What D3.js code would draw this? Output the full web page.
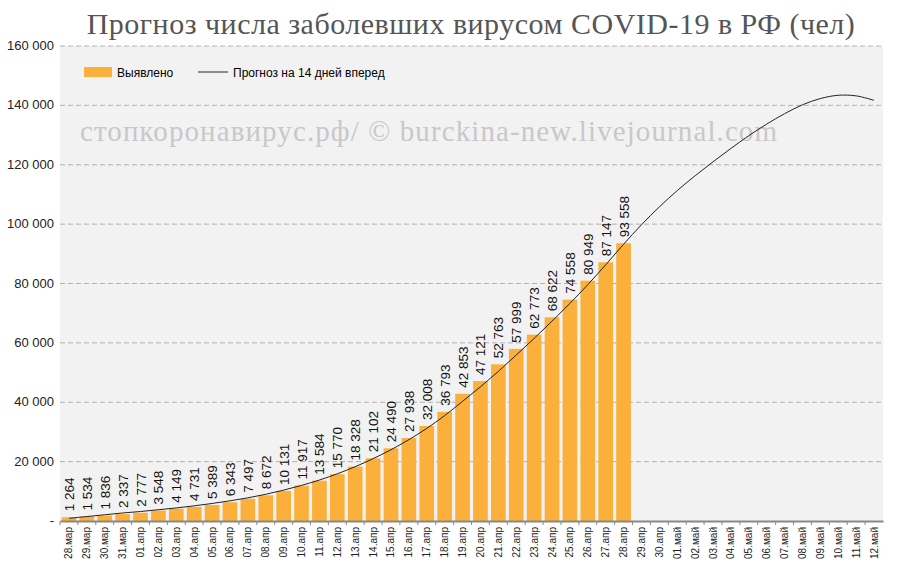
<!DOCTYPE html>
<html><head><meta charset="utf-8">
<script src="https://cdn.jsdelivr.net/npm/d3@7"></script>
<style>body{margin:0;background:#fff}svg{display:block}</style>
</head><body><div id="chart"></div>
<script>
// Категории (даты)
const dates = ["28.мар","29.мар","30.мар","31.мар",
  "01.апр","02.апр","03.апр","04.апр","05.апр","06.апр","07.апр","08.апр","09.апр","10.апр",
  "11.апр","12.апр","13.апр","14.апр","15.апр","16.апр","17.апр","18.апр","19.апр","20.апр",
  "21.апр","22.апр","23.апр","24.апр","25.апр","26.апр","27.апр","28.апр","29.апр","30.апр",
  "01.май","02.май","03.май","04.май","05.май","06.май","07.май","08.май","09.май","10.май","11.май","12.май"];
// Выявлено
const detected = [1264,1534,1836,2337,2777,3548,4149,4731,5389,6343,7497,8672,10131,11917,13584,15770,
  18328,21102,24490,27938,32008,36793,42853,47121,52763,57999,62773,68622,74558,80949,87147,93558];
// Прогноз на 14 дней вперед
const forecast = [900,1500,2100,2700,3200,3800,4400,5100,5900,6800,7800,9000,10400,12000,13800,15900,
  18300,21000,24000,27400,31200,35500,40300,45200,50400,55900,61500,67300,73300,79600,86300,93200,
  99800,105800,111300,116300,121000,125500,129800,133700,137200,140200,142300,143400,143200,141700];
const yTicks = [0,20000,40000,60000,80000,100000,120000,140000,160000];

const W = 900, H = 571;
const m = {top: 46, right: 17, bottom: 50, left: 60};
const svg = d3.select('#chart').append('svg').attr('width', W).attr('height', H);
const fmt = v => v === 0 ? '-' : d3.format(',')(v).replace(/,/g, '\u00a0');

const x = d3.scaleBand().domain(dates).range([m.left, W - m.right]).paddingInner(0.18).paddingOuter(0.09);
const y = d3.scaleLinear().domain([0, 160000]).range([H - m.bottom, m.top]);

// фон
svg.append('rect').attr('x', m.left).attr('y', m.top)
  .attr('width', W - m.right - m.left).attr('height', H - m.bottom - m.top).attr('fill', '#f2f2f2');

// сетка
svg.append('g').selectAll('line').data(yTicks.filter(d => d > 0)).enter().append('line')
  .attr('x1', m.left).attr('x2', W - m.right)
  .attr('y1', d => y(d)).attr('y2', d => y(d))
  .attr('stroke', '#b0b0b0').attr('stroke-dasharray', '5,3');

// ось Y
svg.append('g').selectAll('text').data(yTicks).enter().append('text')
  .attr('x', 54).attr('y', d => y(d) + 4).attr('text-anchor', 'end')
  .style('font', '13px "Liberation Sans", Arial').attr('fill', '#222').text(fmt);

// водяной знак
svg.append('text').attr('x', 80).attr('y', 141).attr('letter-spacing', '1.1')
  .style('font', '29px "Liberation Serif", serif').attr('fill', '#c8c8c8')
  .text('стопкоронавирус.рф/ © burckina-new.livejournal.com');

// столбцы
svg.append('g').selectAll('rect').data(detected).enter().append('rect')
  .attr('x', (d, i) => x(dates[i])).attr('width', x.bandwidth())
  .attr('y', d => y(d)).attr('height', d => y(0) - y(d)).attr('fill', '#fbb03b');

// линия прогноза
svg.append('path').datum(forecast)
  .attr('d', d3.line().x((d, i) => x(dates[i]) + x.bandwidth() / 2).y(d => y(d)).curve(d3.curveCatmullRom))
  .attr('fill', 'none').attr('stroke', '#222').attr('stroke-width', 1);

// подписи значений
svg.append('g').selectAll('text').data(detected).enter().append('text')
  .attr('transform', (d, i) => `translate(${x(dates[i]) + x.bandwidth() / 2 + 5},${y(d) - 6}) rotate(-90)`)
  .style('font', '13.5px "Liberation Sans", Arial').attr('fill', '#111')
  .text(d => fmt(d));

// ось X
const xAxis = svg.append('g').attr('transform', `translate(0,${y(0)})`)
  .call(d3.axisBottom(x).tickSize(4).tickSizeOuter(0));
xAxis.select('.domain').attr('stroke', '#888').attr('stroke-width', 2);
xAxis.selectAll('.tick line').attr('stroke', '#888').attr('transform', `translate(${-x.step() / 2},0)`);
xAxis.selectAll('text').attr('transform', 'rotate(-90)').attr('text-anchor', 'end')
  .attr('x', -6).attr('y', 0).attr('dy', '0.35em')
  .style('font', '10px "Liberation Sans", Arial').attr('fill', '#222');

// заголовок
svg.append('text').attr('x', 471).attr('y', 34).attr('text-anchor', 'middle')
  .style('font', '30px "Liberation Serif", serif').attr('fill', '#555').attr('letter-spacing', '0.5')
  .text('Прогноз числа заболевших вирусом COVID-19 в РФ (чел)');

// легенда
const lg = svg.append('g');
lg.append('rect').attr('x', 84).attr('y', 67).attr('width', 28).attr('height', 10).attr('fill', '#fbb03b');
lg.append('text').attr('x', 117).attr('y', 77).style('font', '12px "Liberation Sans", Arial').text('Выявлено');
lg.append('line').attr('x1', 198).attr('x2', 228).attr('y1', 72).attr('y2', 72).attr('stroke', '#222');
lg.append('text').attr('x', 233).attr('y', 77).style('font', '12px "Liberation Sans", Arial').text('Прогноз на 14 дней вперед');
</script></body></html>
